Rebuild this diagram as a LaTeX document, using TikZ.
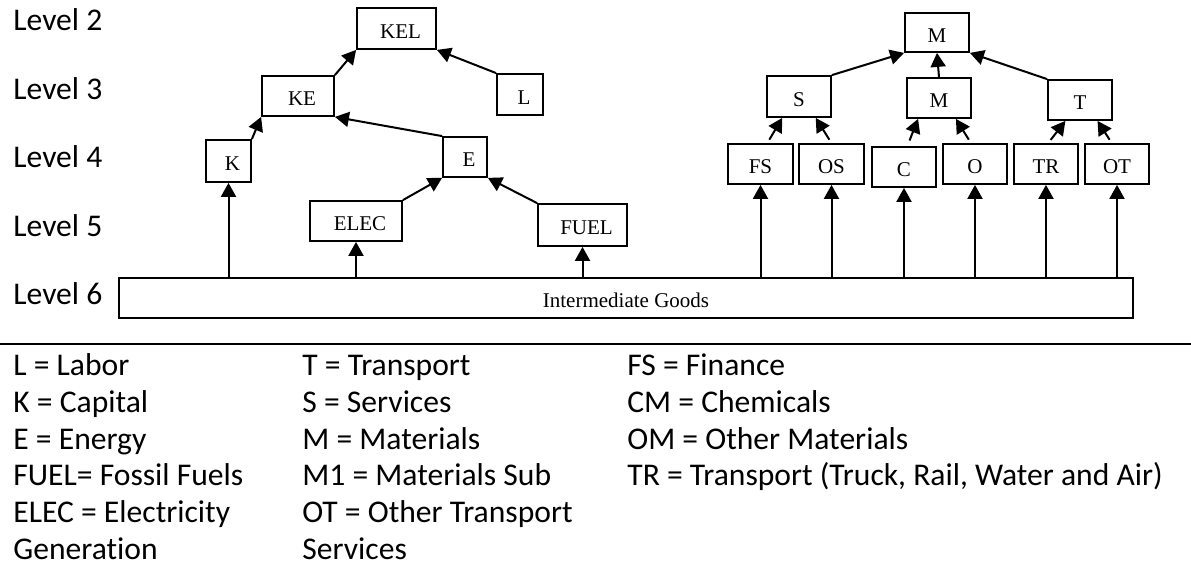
\documentclass[tikz,border=0pt]{standalone}
\usepackage{fontspec}
\setmainfont{Liberation Serif}
\newfontfamily\calib[Ligatures=CommonOff]{Carlito}
\usetikzlibrary{arrows.meta}
\tikzset{
  box/.style={draw, line width=0.9pt, minimum width=32pt, minimum height=20pt, inner sep=1pt,
    font=\fontsize{10.5}{12}\selectfont, text height=9.8pt, text depth=0pt},
  lbox/.style={box, execute at begin node=\hspace*{4pt}},
  arr/.style={line width=1pt, -{Triangle[length=7pt,width=7.5pt]}},
  lvl/.style={anchor=base west, inner sep=0pt, font=\calib\fontsize{15.8}{18}\selectfont},
  leg/.style={lvl}
}
\begin{document}
\begin{tikzpicture}[x=0.5pt,y=-0.5pt]
\useasboundingbox (0,0) rectangle (1191,577);
\node[lvl] (lv2) at (13,31) {Level 2};
\node[lvl] (lv3) at (13,100) {Level 3};
\node[lvl] (lv4) at (13,168) {Level 4};
\node[lvl] (lv5) at (13,237) {Level 5};
\node[lvl] (lv6) at (13,305) {Level 6};
\node[lbox, minimum width=39.5pt, minimum height=20.5pt] (kel) at (396.5,28.5) {KEL};
\node[lbox, minimum width=36pt] (ke) at (298,96) {KE};
\node[lbox, minimum width=23pt, minimum height=20.5pt] (l) at (520,94.5) {L};
\node[lbox, minimum width=22.5pt, minimum height=21pt] (k) at (228.5,161) {K};
\node[lbox, minimum width=22pt] (e) at (465,157) {E};
\node[lbox, minimum width=46pt] (elec) at (356,221) {ELEC};
\node[lbox, minimum width=44.5pt, minimum height=21pt] (fuel) at (582.5,225) {FUEL};
\node[box, minimum width=507pt] (ig) at (626,298) {Intermediate Goods};
\node[box, minimum height=19.5pt] (mat) at (937,32.5) {M};
\node[box, minimum height=20.5pt] (srv) at (799,96.5) {S};
\node[box] (msub) at (939,98) {M};
\node[box] (trn) at (1080,100) {T};
\node[box, minimum width=32.5pt] (fs) at (760.5,164) {FS};
\node[box, minimum width=32.5pt] (os) at (831.5,164) {OS};
\node[box] (c) at (904,167) {C};
\node[box] (o) at (975,164) {O};
\node[box] (tr) at (1046,164) {TR};
\node[box] (ot) at (1117,164) {OT};
\draw[arr] (ke.north east) -- (kel.south west);
\draw[arr] (l.north west) -- (kel.south east);
\draw[arr] (k.north east) -- (ke.south west);
\draw[arr] (e.north west) -- (ke.south east);
\draw[arr] (elec.north east) -- (e.south west);
\draw[arr] (fuel.north west) -- (e.south east);
\draw[arr] (ig.north -| k.south) -- (k.south);
\draw[arr] (ig.north -| elec.south) -- (elec.south);
\draw[arr] (ig.north -| fuel.south) -- (fuel.south);
\draw[arr] (srv.north east) -- (mat.south west);
\draw[arr] (msub.north) -- (mat.south);
\draw[arr] (trn.north west) -- (mat.south east);
\draw[arr, shorten <=2pt] (fs.72) -- (srv.232);
\draw[arr, shorten <=2pt] (os.north) -- (srv.308);
\draw[arr, shorten <=3pt] (c.81) -- (msub.225);
\draw[arr, shorten <=2pt] (o.101) -- (msub.309);
\draw[arr, shorten <=2pt] (tr.84) -- (trn.235);
\draw[arr, shorten <=2pt] (ot.104) -- (trn.310);
\draw[arr] (ig.north -| fs.south) -- (fs.south);
\draw[arr] (ig.north -| os.south) -- (os.south);
\draw[arr] (ig.north -| c.south) -- (c.south);
\draw[arr] (ig.north -| o.south) -- (o.south);
\draw[arr] (ig.north -| tr.south) -- (tr.south);
\draw[arr] (ig.north -| ot.south) -- (ot.south);
\draw[line width=1.2pt] (0,344) -- (1191,344);
\node[leg] (lab) at (13,376) {L = Labor};
\node[leg] (cap) at (13,412.7) {K = Capital};
\node[leg] (enr) at (13,449.3) {E = Energy};
\node[leg] (fos) at (13,486) {FUEL= Fossil Fuels};
\node[leg] (ele) at (13,522.7) {ELEC = Electricity};
\node[leg] (gen) at (13,559.3) {Generation};
\node[leg] (tra) at (302,376) {T = Transport};
\node[leg] (ser) at (302,412.7) {S = Services};
\node[leg] (mtr) at (302,449.3) {M = Materials};
\node[leg] (msb) at (302,486) {M1 = Materials Sub};
\node[leg] (oth) at (302,522.7) {OT = Other Transport};
\node[leg] (svc) at (302,559.3) {Services};
\node[leg] (fin) at (627,376) {FS = Finance};
\node[leg] (chm) at (627,412.7) {CM = Chemicals};
\node[leg] (omt) at (627,449.3) {OM = Other Materials};
\node[leg] (trk) at (627,486) {TR = Transport (Truck, Rail, Water and Air)};
\end{tikzpicture}
\end{document}
